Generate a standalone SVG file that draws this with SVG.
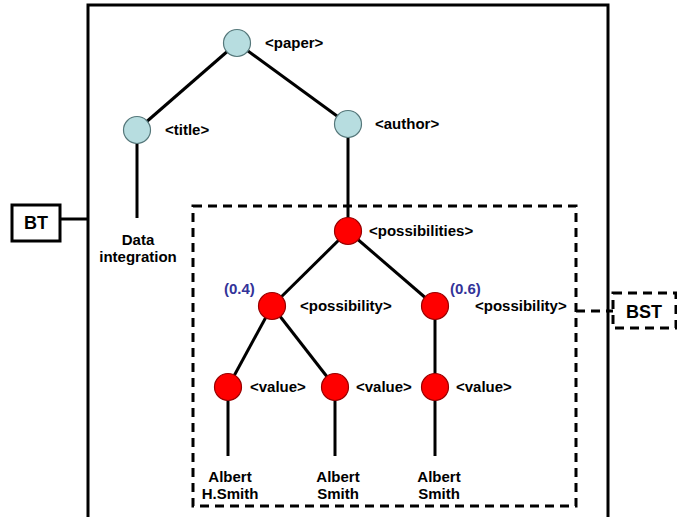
<svg xmlns="http://www.w3.org/2000/svg" width="677" height="517" viewBox="0 0 677 517">
<style>
.t{font-family:"Liberation Sans",Arial,sans-serif;font-weight:bold;font-size:15px;fill:#000}
.p{fill:#333399}
.e{stroke:#000;stroke-width:3;fill:none}
.d{stroke:#000;stroke-width:3;fill:none;stroke-dasharray:9 6}
.b{fill:#b7dde0;stroke:#55777a;stroke-width:1.2}
.r{fill:#ff0000;stroke:#990000;stroke-width:1.2}
</style>
<rect width="677" height="517" fill="#fff"/>
<g id="frame">
<path class="e" d="M88 520 V5 H608 V520"/>
</g>
<g id="subtree-box">
<rect class="d" x="193" y="206" width="383" height="300"/>
</g>
<g id="connectors">
<line class="e" x1="60" y1="219" x2="88" y2="219"/>
<line class="d" x1="576" y1="311" x2="613" y2="311"/>
<line class="e" x1="237" y1="43" x2="137" y2="130"/>
<line class="e" x1="237" y1="43" x2="348" y2="124"/>
<line class="e" x1="137" y1="130" x2="137" y2="218"/>
<line class="e" x1="348" y1="124" x2="348" y2="231"/>
<line class="e" x1="348" y1="231" x2="272" y2="306"/>
<line class="e" x1="348" y1="231" x2="435" y2="306"/>
<line class="e" x1="272" y1="306" x2="228" y2="387"/>
<line class="e" x1="272" y1="306" x2="335" y2="387"/>
<line class="e" x1="435" y1="306" x2="435" y2="387"/>
<line class="e" x1="228" y1="387" x2="228" y2="456"/>
<line class="e" x1="335" y1="387" x2="335" y2="456"/>
<line class="e" x1="435" y1="387" x2="435" y2="456"/>
</g>
<g id="BT">
<rect x="12" y="205" width="48" height="36" fill="#fff" stroke="#000" stroke-width="3"/>
<text class="t" x="36" y="229" text-anchor="middle" style="font-size:18px">BT</text>
</g>
<g id="BST">
<rect class="d" x="613" y="293" width="63" height="35" fill="#fff"/>
<text class="t" x="644" y="318" text-anchor="middle" style="font-size:18px">BST</text>
</g>
<g id="paper">
<circle class="b" cx="237" cy="43" r="13.5"/>
<text class="t" x="265" y="48">&lt;paper&gt;</text>
</g>
<g id="title">
<circle class="b" cx="137" cy="130" r="13.5"/>
<text class="t" x="165" y="135">&lt;title&gt;</text>
</g>
<g id="data-integration">
<text class="t" x="138" y="245" text-anchor="middle">Data</text>
<text class="t" x="138" y="262" text-anchor="middle">integration</text>
</g>
<g id="author">
<circle class="b" cx="348" cy="124" r="13.5"/>
<text class="t" x="375" y="129">&lt;author&gt;</text>
</g>
<g id="possibilities">
<circle class="r" cx="348" cy="231" r="13.5"/>
<text class="t" x="369" y="236">&lt;possibilities&gt;</text>
</g>
<g id="possibility1">
<circle class="r" cx="272" cy="306" r="13.5"/>
<text class="t p" x="224" y="294">(0.4)</text>
<text class="t" x="300" y="311">&lt;possibility&gt;</text>
</g>
<g id="possibility2">
<circle class="r" cx="435" cy="306" r="13.5"/>
<text class="t p" x="450" y="294">(0.6)</text>
<text class="t" x="475" y="311">&lt;possibility&gt;</text>
</g>
<g id="value1">
<circle class="r" cx="228" cy="387" r="13.5"/>
<text class="t" x="250" y="392">&lt;value&gt;</text>
</g>
<g id="value2">
<circle class="r" cx="335" cy="387" r="13.5"/>
<text class="t" x="356" y="392">&lt;value&gt;</text>
</g>
<g id="value3">
<circle class="r" cx="435" cy="387" r="13.5"/>
<text class="t" x="456" y="392">&lt;value&gt;</text>
</g>
<g id="leaf1">
<text class="t" x="230" y="482" text-anchor="middle">Albert</text>
<text class="t" x="230" y="499" text-anchor="middle">H.Smith</text>
</g>
<g id="leaf2">
<text class="t" x="338" y="482" text-anchor="middle">Albert</text>
<text class="t" x="338" y="499" text-anchor="middle">Smith</text>
</g>
<g id="leaf3">
<text class="t" x="439" y="482" text-anchor="middle">Albert</text>
<text class="t" x="439" y="499" text-anchor="middle">Smith</text>
</g>
</svg>
